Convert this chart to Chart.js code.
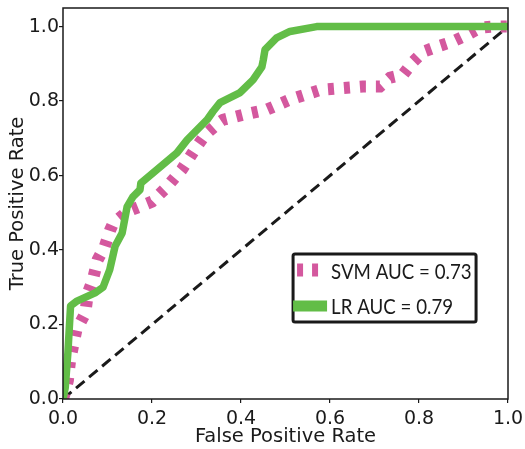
<!DOCTYPE html>
<html>
<head>
<meta charset="utf-8">
<script src="https://cdn.jsdelivr.net/npm/chart.js@4/dist/chart.umd.min.js"></script>
<style>
  html, body { margin: 0; padding: 0; background: #fff; }
  #wrap { width: 525px; height: 449px; }
</style>
</head>
<body>
<div id="wrap"><canvas id="roc"></canvas></div>
<script>
// ROC points
const svmFpr = [0, 0.005, 0.011, 0.016, 0.03, 0.05, 0.056, 0.067, 0.078, 0.094, 0.106, 0.112, 0.144, 0.2, 0.23, 0.267, 0.3, 0.32, 0.35, 0.36, 0.404, 0.458, 0.51, 0.578, 0.63, 0.674, 0.712, 0.735, 0.764, 0.787, 0.81, 0.84, 0.876, 0.908, 0.937, 0.966, 1];
const svmTpr = [0, 0.02, 0.05, 0.105, 0.185, 0.23, 0.285, 0.32, 0.374, 0.41, 0.454, 0.47, 0.503, 0.53, 0.565, 0.616, 0.677, 0.71, 0.742, 0.75, 0.763, 0.777, 0.804, 0.83, 0.835, 0.839, 0.839, 0.863, 0.871, 0.906, 0.933, 0.946, 0.96, 0.978, 0.997, 1, 1];
const lrFpr = [0, 0.005, 0.011, 0.017, 0.03, 0.072, 0.09, 0.105, 0.117, 0.133, 0.144, 0.157, 0.173, 0.175, 0.256, 0.279, 0.324, 0.337, 0.353, 0.398, 0.427, 0.447, 0.45, 0.454, 0.48, 0.51, 0.57, 1];
const lrTpr = [0, 0.03, 0.124, 0.25, 0.262, 0.285, 0.30, 0.347, 0.41, 0.446, 0.516, 0.543, 0.562, 0.58, 0.661, 0.696, 0.75, 0.772, 0.796, 0.823, 0.857, 0.892, 0.91, 0.938, 0.97, 0.987, 1, 1];
const chanceFpr = [0, 1];
const chanceTpr = [0, 1];
const seriesLabels = ['SVM AUC = 0.73', 'LR AUC = 0.79'];
const tickValues = [0, 0.2, 0.4, 0.6, 0.8, 1.0];

const pink = '#d4589e';
const green = '#62bd47';
const ink = '#1a1a1a';

function pts(xs, ys) {
    return xs.map((x, i) => ({ x: x, y: ys[i] }));
}

// box around the plot area + the legend inside it
const frameAndLegend = {
    id: 'frameAndLegend',
    afterDatasetsDraw(chart) {
        const ctx = chart.ctx;
        const a = chart.chartArea;
        ctx.save();
        ctx.strokeStyle = ink;
        ctx.lineWidth = 1.5;
        ctx.strokeRect(a.left, a.top, a.right - a.left, a.bottom - a.top);

        const w = a.right - a.left, h = a.bottom - a.top;
        const bx = a.left + 0.517 * w, by = a.top + 0.629 * h;
        const bw = 183, bh = 68;
        ctx.lineWidth = 3;
        ctx.strokeStyle = ink;
        ctx.fillStyle = '#fff';
        ctx.beginPath();
        ctx.roundRect(bx, by, bw, bh, 2);
        ctx.fill();
        ctx.stroke();

        // SVM sample
        ctx.strokeStyle = pink;
        ctx.lineWidth = 13;
        ctx.lineCap = 'butt';
        ctx.setLineDash([6, 9]);
        ctx.beginPath();
        ctx.moveTo(bx + 4, by + 16);
        ctx.lineTo(bx + 29, by + 16);
        ctx.stroke();
        // LR sample
        ctx.setLineDash([]);
        ctx.strokeStyle = green;
        ctx.lineWidth = 11;
        ctx.beginPath();
        ctx.moveTo(bx, by + 52);
        ctx.lineTo(bx + 34, by + 52);
        ctx.stroke();

        // narrow-ish text like the original legend font
        ctx.fillStyle = ink;
        ctx.font = '21px Lato';
        ctx.textBaseline = 'middle';
        ctx.translate(bx + 38, by);
        ctx.scale(0.89, 1);
        ctx.fillText(seriesLabels[0], 0, 18);
        ctx.fillText(seriesLabels[1], 0, 53);
        ctx.restore();
    }
};

const tickFont = { family: 'DejaVu Sans', size: 19 };
const titleFont = { family: 'DejaVu Sans', size: 19.5 };

new Chart(document.getElementById('roc'), {
    type: 'line',
    data: {
        datasets: [
            {
                label: seriesLabels[1],
                data: pts(lrFpr, lrTpr),
                borderColor: green,
                borderWidth: 7.5,
                borderJoinStyle: 'round',
                pointRadius: 0,
                tension: 0,
                order: 0
            },
            {
                label: seriesLabels[0],
                data: pts(svmFpr, svmTpr),
                borderColor: pink,
                borderWidth: 12,
                borderDash: [6, 10],
                borderCapStyle: 'butt',
                pointRadius: 0,
                tension: 0,
                order: 1
            },
            {
                label: 'chance',
                data: pts(chanceFpr, chanceTpr),
                borderColor: ink,
                borderWidth: 3,
                borderDash: [11, 6],
                pointRadius: 0,
                order: 2
            }
        ]
    },
    options: {
        responsive: true,
        maintainAspectRatio: false,
        animation: false,
        layout: { padding: { top: 8, right: 17, left: 0, bottom: 0 } },
        plugins: {
            legend: { display: false },
            tooltip: { enabled: false }
        },
        scales: {
            x: {
                type: 'linear',
                min: 0,
                max: 1,
                afterFit: s => { s.height = 50; s.paddingLeft = 0; s.paddingRight = 0; },
                afterBuildTicks: s => { s.ticks = tickValues.map(v => ({ value: v })); },
                border: { display: false },
                grid: { drawOnChartArea: false, drawTicks: true, tickLength: 4, color: ink, lineWidth: 1.2 },
                ticks: { font: tickFont, color: ink, padding: 5, maxRotation: 0, callback: v => v.toFixed(1) },
                title: { display: true, text: 'False Positive Rate', font: titleFont, color: ink, padding: { top: 0, bottom: 0 } }
            },
            y: {
                type: 'linear',
                min: 0,
                max: 1.05,
                afterFit: s => { s.width = 63; s.paddingTop = 0; s.paddingBottom = 0; },
                afterBuildTicks: s => { s.ticks = tickValues.map(v => ({ value: v })); },
                border: { display: false },
                grid: { drawOnChartArea: false, drawTicks: true, tickLength: 4, color: ink, lineWidth: 1.2 },
                ticks: { font: tickFont, color: ink, padding: 0, callback: v => v.toFixed(1) },
                title: { display: true, text: 'True Positive Rate', font: titleFont, color: ink, padding: { top: 6, bottom: 0 } }
            }
        }
    },
    plugins: [frameAndLegend]
});
</script>
</body>
</html>
